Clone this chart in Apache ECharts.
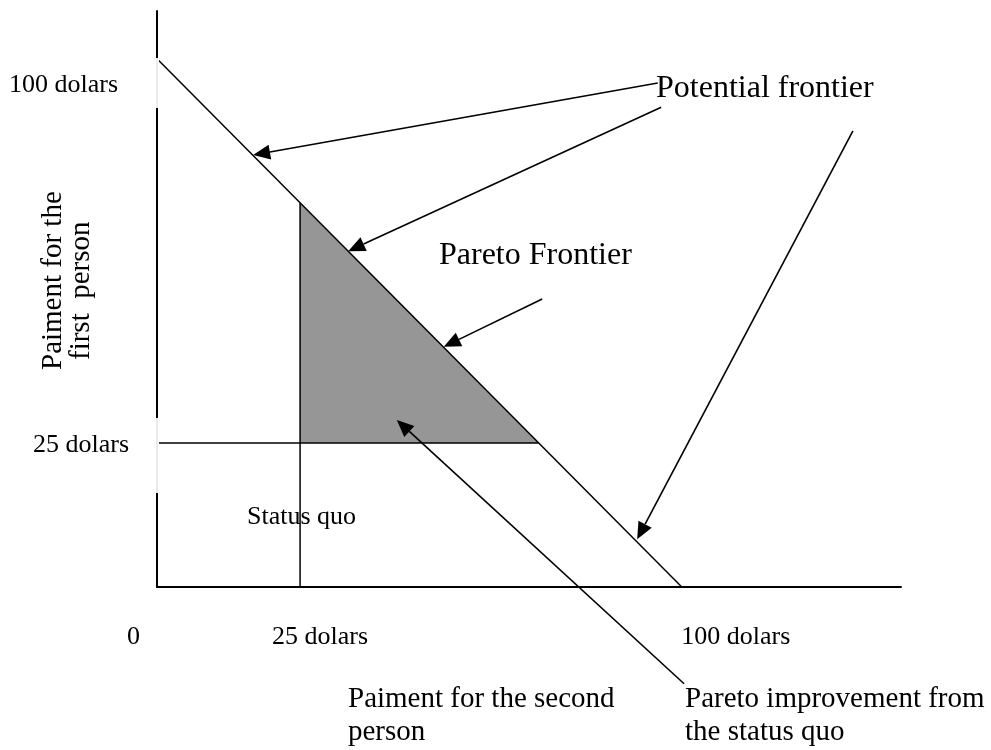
<!DOCTYPE html>
<html>
<head>
<meta charset="utf-8">
<script src="https://cdn.jsdelivr.net/npm/echarts@6.0.0/dist/echarts.min.js"></script>
<style>
  html, body { margin: 0; padding: 0; background: #fff; }
  #chart { width: 991px; height: 750px; }
</style>
</head>
<body>
<div id="chart"></div>
<script>
// payment for the second person (x) / first person (y), in drawing units
const frontierX = [0, 91.7];
const frontierY = [91.7, 0];
const statusQuo = 25;
// shaded pareto improvement triangle
const paretoX = [25, 25, 66.7];
const paretoY = [25, 66.7, 25];
// annotation arrows: tail -> head
const arrowFrom = [[87.5, 87.5], [88.1, 83.3], [67.3, 50.0], [121.6, 79.2], [92.1, -16.8]];
const arrowTo = [[16.8, 75.0], [33.4, 58.3], [50.1, 41.7], [83.9, 8.3], [41.9, 29.0]];
// tick labels
const xTickValues = [0, 25, 100];
const xTickLabels = ['0', '25 dolars', '100 dolars'];
const yTickValues = [25, 87.2];
const yTickLabels = ['25 dolars', '100 dolars'];

const FONT = '"Liberation Serif", "Times New Roman", serif';

const arrowData = arrowFrom.map((f, i) => [f[0], f[1], arrowTo[i][0], arrowTo[i][1]]);

let chart = echarts.init(document.getElementById('chart'));

chart.setOption({
  animation: false,
  grid: { left: 157, right: 90, top: 11, bottom: 163 },
  xAxis: {
    type: 'value',
    min: 0,
    max: 130,
    splitLine: { show: false },
    axisTick: { show: false },
    axisLine: { lineStyle: { color: '#000', width: 2 } },
    axisLabel: {
      customValues: xTickValues,
      margin: 37,
      color: '#000',
      fontFamily: FONT,
      fontSize: 26,
      formatter: function (v) {
        let i = xTickValues.indexOf(v);
        return '{t' + i + '|' + xTickLabels[i] + '}';
      },
      rich: {
        t0: { fontFamily: FONT, fontSize: 26, color: '#000', padding: [0, 47, 0, 0] },
        t1: { fontFamily: FONT, fontSize: 26, color: '#000', padding: [0, 0, 0, 40] },
        t2: { fontFamily: FONT, fontSize: 26, color: '#000', padding: [0, 0, 0, 13] }
      }
    }
  },
  yAxis: {
    type: 'value',
    min: 0,
    max: 100,
    splitLine: { show: false },
    axisTick: { show: false },
    axisLine: { lineStyle: { color: '#000', width: 2 } },
    axisLabel: {
      customValues: yTickValues,
      margin: 28,
      color: '#000',
      fontFamily: FONT,
      fontSize: 26,
      formatter: function (v) {
        let i = yTickValues.indexOf(v);
        return '{t' + i + '|' + yTickLabels[i] + '}';
      },
      rich: {
        t0: { fontFamily: FONT, fontSize: 26, color: '#000', padding: [4, 0, 0, 0] },
        t1: { fontFamily: FONT, fontSize: 26, color: '#000', padding: [0, 11, 0, 0] }
      }
    }
  },
  graphic: [
    // white text-box gaps on the y axis
    { type: 'rect', z: 100, shape: { x: 155, y: 58, width: 4, height: 50 }, style: { fill: '#fff' } },
    { type: 'rect', z: 100, shape: { x: 155, y: 418, width: 4, height: 75 }, style: { fill: '#fff' } },
    { type: 'line', z: 101, shape: { x1: 157, y1: 58, x2: 157, y2: 108 }, style: { stroke: '#c4c4c4', lineWidth: 0.7 } },
    { type: 'line', z: 101, shape: { x1: 157, y1: 418, x2: 157, y2: 493 }, style: { stroke: '#c4c4c4', lineWidth: 0.7 } },
    // y axis title, two rotated lines
    { type: 'text', z: 100, x: 53, y: 370, rotation: Math.PI / 2,
      style: { text: 'Paiment for the', font: '29px ' + FONT, fill: '#000', textAlign: 'left', textVerticalAlign: 'middle', verticalAlign: 'middle' } },
    { type: 'text', z: 100, x: 81, y: 360, rotation: Math.PI / 2,
      style: { text: 'first  person', font: '29px ' + FONT, fill: '#000', textAlign: 'left', textVerticalAlign: 'middle', verticalAlign: 'middle' } },
    // annotations
    { type: 'text', z: 100, x: 656, y: 89,
      style: { text: 'Potential frontier', font: '32px ' + FONT, fill: '#000', textAlign: 'left', textVerticalAlign: 'middle', verticalAlign: 'middle' } },
    { type: 'text', z: 100, x: 439, y: 256,
      style: { text: 'Pareto Frontier', font: '32px ' + FONT, fill: '#000', textAlign: 'left', textVerticalAlign: 'middle', verticalAlign: 'middle' } },
    { type: 'text', z: 100, x: 247, y: 517,
      style: { text: 'Status quo', font: '26px ' + FONT, fill: '#000', textAlign: 'left', textVerticalAlign: 'middle', verticalAlign: 'middle' } },
    { type: 'text', z: 100, x: 348, y: 683,
      style: { text: 'Paiment for the second\nperson', font: '29px ' + FONT, lineHeight: 33, fill: '#000', textAlign: 'left', textVerticalAlign: 'top', verticalAlign: 'top' } },
    { type: 'text', z: 100, x: 685, y: 683,
      style: { text: 'Pareto improvement from\nthe status quo', font: '29px ' + FONT, lineHeight: 33, fill: '#000', textAlign: 'left', textVerticalAlign: 'top', verticalAlign: 'top' } }
  ],
  series: [
    {
      // pareto improvement area
      type: 'custom',
      z: 1,
      data: [0],
      renderItem: function (params, api) {
        let pts = paretoX.map((x, i) => api.coord([x, paretoY[i]]));
        return { type: 'polygon', shape: { points: pts }, style: { fill: '#969696' } };
      }
    },
    {
      type: 'line',
      z: 3,
      data: frontierX.map((x, i) => [x, frontierY[i]]),
      showSymbol: false,
      lineStyle: { color: '#000', width: 1.5 }
    },
    {
      type: 'line',
      z: 3,
      data: [[0, statusQuo], [paretoX[2], statusQuo]],
      showSymbol: false,
      lineStyle: { color: '#000', width: 1.5 }
    },
    {
      type: 'line',
      z: 3,
      data: [[statusQuo, 0], [statusQuo, paretoY[1]]],
      showSymbol: false,
      lineStyle: { color: '#000', width: 1.5 }
    },
    {
      type: 'custom',
      z: 4,
      clip: false,
      dimensions: ['x1', 'y1', 'x2', 'y2'],
      encode: { x: [0, 2], y: [1, 3] },
      data: arrowData,
      renderItem: function (params, api) {
        let p1 = api.coord([api.value(0), api.value(1)]);
        let p2 = api.coord([api.value(2), api.value(3)]);
        let dx = p2[0] - p1[0], dy = p2[1] - p1[1];
        let len = Math.sqrt(dx * dx + dy * dy);
        let ux = dx / len, uy = dy / len;
        let headLen = 17, headW = 7.5;
        let bx = p2[0] - ux * headLen, by = p2[1] - uy * headLen;
        return {
          type: 'group',
          children: [
            { type: 'line', shape: { x1: p1[0], y1: p1[1], x2: bx, y2: by }, style: { stroke: '#000', lineWidth: 1.6 } },
            { type: 'polygon', shape: { points: [p2, [bx - uy * headW, by + ux * headW], [bx + uy * headW, by - ux * headW]] }, style: { fill: '#000' } }
          ]
        };
      }
    }
  ]
});
</script>
</body>
</html>
